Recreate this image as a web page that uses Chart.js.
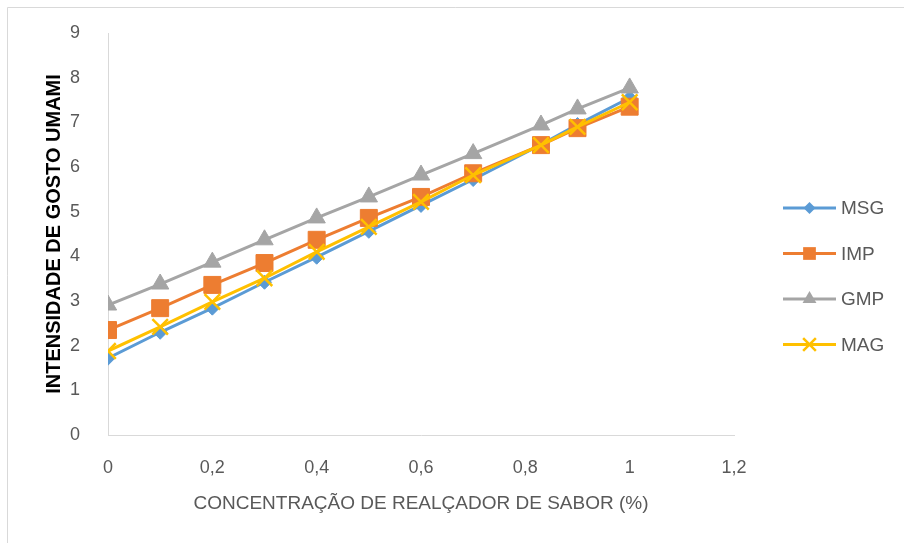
<!DOCTYPE html>
<html>
<head>
<meta charset="utf-8">
<script src="https://cdn.jsdelivr.net/npm/chart.js@4.4.1/dist/chart.umd.min.js"></script>
<style>
  html, body { margin: 0; padding: 0; background: #fff; }
  #wrap { width: 904px; height: 543px; }
</style>
</head>
<body>
<div id="wrap"><canvas id="chart" width="904" height="543"></canvas></div>
<script>
// concentration (%) on x
var concentracao = [0, 0.1, 0.2, 0.3, 0.4, 0.5, 0.6, 0.7, 0.83, 0.9, 1];

// umami intensity per enhancer
var msg = [1.72, 2.30, 2.84, 3.42, 3.98, 4.56, 5.14, 5.72, 6.50, 6.95, 7.55];
var imp = [2.35, 2.84, 3.36, 3.85, 4.37, 4.86, 5.33, 5.86, 6.49, 6.87, 7.35];
var gmp = [2.91, 3.38, 3.87, 4.37, 4.86, 5.33, 5.82, 6.30, 6.94, 7.30, 7.77];
var mag = [1.88, 2.42, 2.98, 3.51, 4.10, 4.66, 5.22, 5.82, 6.49, 6.90, 7.45];

var seriesNames = ['MSG', 'IMP', 'GMP', 'MAG'];
var xMin = 0, xMax = 1.2, xStep = 0.2;
var yMin = 0, yMax = 9, yStep = 1;

var FONT = '"Liberation Sans", Arial, sans-serif';
var TEXT = '#595959';

function pts(ys) {
    return ys.map(function (v, i) { return {x: concentracao[i], y: v}; });
}

function series(name, ys, color, style, radius, legendRadius, order) {
    var cross = style === 'crossRot';
    return {
        label: name,
        data: pts(ys),
        borderColor: color,
        backgroundColor: color,
        borderWidth: 3,
        tension: 0,
        pointStyle: style,
        pointRadius: radius,
        pointHoverRadius: radius,
        pointBackgroundColor: color,
        pointBorderColor: color,
        pointBorderWidth: cross ? 2.5 : 1,
        legendRadius: legendRadius,
        order: order
    };
}

function drawMarker(ctx, style, x, y, r) {
    ctx.beginPath();
    if (style === 'rectRot') {
        ctx.moveTo(x, y - r); ctx.lineTo(x + r, y); ctx.lineTo(x, y + r); ctx.lineTo(x - r, y);
        ctx.closePath(); ctx.fill();
    } else if (style === 'rect') {
        var s = r * Math.SQRT1_2;
        ctx.rect(x - s, y - s, 2 * s, 2 * s); ctx.fill();
    } else if (style === 'triangle') {
        ctx.moveTo(x, y - r);
        ctx.lineTo(x + r * Math.sin(2 * Math.PI / 3), y - r * Math.cos(2 * Math.PI / 3));
        ctx.lineTo(x + r * Math.sin(4 * Math.PI / 3), y - r * Math.cos(4 * Math.PI / 3));
        ctx.closePath(); ctx.fill();
    } else if (style === 'crossRot') {
        var d = r * Math.SQRT1_2;
        ctx.moveTo(x - d, y - d); ctx.lineTo(x + d, y + d);
        ctx.moveTo(x + d, y - d); ctx.lineTo(x - d, y + d);
        ctx.stroke();
    }
}

var framePlugin = {
    id: 'frame',
    beforeDraw: function (chart) {
        var ctx = chart.ctx;
        ctx.save();
        ctx.fillStyle = '#fff';
        ctx.fillRect(0, 0, chart.width, chart.height);
        ctx.strokeStyle = '#d9d9d9';
        ctx.lineWidth = 1;
        ctx.beginPath();
        ctx.moveTo(7.5, chart.height);
        ctx.lineTo(7.5, 7.5);
        ctx.lineTo(chart.width, 7.5);
        ctx.stroke();
        ctx.restore();
    }
};

var legendPlugin = {
    id: 'sideLegend',
    afterDraw: function (chart) {
        var ctx = chart.ctx;
        var x0 = 783, x1 = 836, top = 208, gap = 45.5;
        chart.data.datasets.forEach(function (ds, i) {
            var y = top + i * gap;
            ctx.save();
            ctx.strokeStyle = ds.borderColor;
            ctx.lineWidth = 3;
            ctx.beginPath();
            ctx.moveTo(x0, y);
            ctx.lineTo(x1, y);
            ctx.stroke();
            ctx.fillStyle = ds.pointBackgroundColor;
            ctx.lineWidth = ds.pointBorderWidth;
            drawMarker(ctx, ds.pointStyle, (x0 + x1) / 2, y, ds.legendRadius);
            ctx.fillStyle = TEXT;
            ctx.font = '19px ' + FONT;
            ctx.textBaseline = 'middle';
            ctx.textAlign = 'left';
            ctx.fillText(ds.label, x1 + 5, y + 1);
            ctx.restore();
        });
    }
};

new Chart(document.getElementById('chart'), {
    type: 'line',
    data: {
        datasets: [
            series(seriesNames[0], msg, '#5B9BD5', 'rectRot', 7, 6, 3),
            series(seriesNames[1], imp, '#ED7D31', 'rect', 12, 9, 2),
            series(seriesNames[2], gmp, '#A5A5A5', 'triangle', 10, 8, 1),
            series(seriesNames[3], mag, '#FFC000', 'crossRot', 11, 9, 0)
        ]
    },
    options: {
        responsive: false,
        animation: false,
        layout: { padding: { top: 33, right: 170, left: 0, bottom: 0 } },
        plugins: {
            legend: { display: false },
            tooltip: { enabled: false }
        },
        scales: {
            x: {
                type: 'linear',
                min: xMin, max: xMax,
                afterFit: function (s) { s.height = 108; },
                grid: { display: false },
                border: { display: true, color: '#d9d9d9', width: 1 },
                ticks: {
                    stepSize: xStep,
                    padding: 14,
                    color: TEXT,
                    font: { family: FONT, size: 18 },
                    maxRotation: 0,
                    callback: function (v) { return String(Math.round(v * 10) / 10).replace('.', ','); }
                },
                title: {
                    display: true,
                    text: 'CONCENTRAÇÃO DE REALÇADOR DE SABOR (%)',
                    color: TEXT,
                    font: { family: FONT, size: 19 },
                    padding: { top: 0, bottom: 28 }
                }
            },
            y: {
                min: yMin, max: yMax,
                afterFit: function (s) { s.width = 108; },
                grid: { display: false },
                border: { display: true, color: '#d9d9d9', width: 1 },
                ticks: {
                    stepSize: yStep,
                    padding: 20,
                    color: TEXT,
                    font: { family: FONT, size: 18 }
                },
                title: {
                    display: true,
                    text: 'INTENSIDADE DE GOSTO UMAMI',
                    color: '#000',
                    font: { family: FONT, size: 20, weight: 'bold' },
                    padding: { top: 42, bottom: 0 }
                }
            }
        }
    },
    plugins: [framePlugin, legendPlugin]
});
</script>
</body>
</html>
